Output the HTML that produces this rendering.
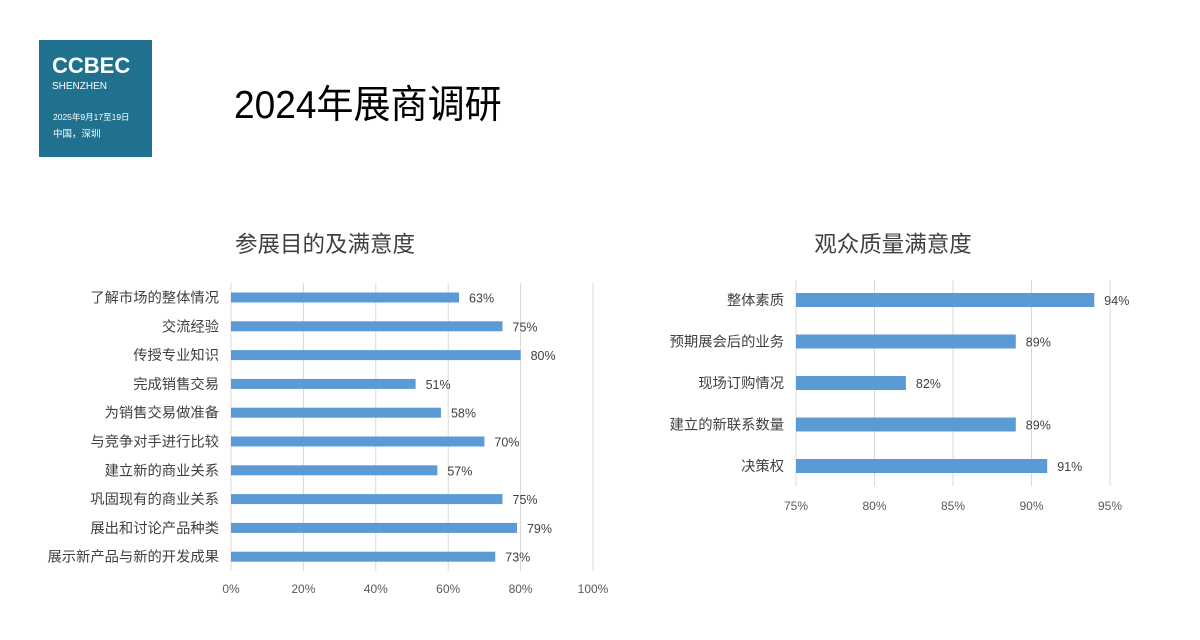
<!DOCTYPE html>
<html><head><meta charset="utf-8">
<style>
body{margin:0;width:1200px;height:640px;background:#fff;overflow:hidden;font-family:"Liberation Sans","Noto Sans CJK SC",sans-serif;position:relative}
.logo{position:absolute;left:39px;top:40px;width:113px;height:117px;background:#1f718d;color:#fff}
</style></head><body>
<div class="logo">
<div style="position:absolute;left:13px;top:13px;font-size:22px;font-weight:bold">CCBEC</div>
<div style="position:absolute;left:13px;top:41px;font-size:10px">SHENZHEN</div>
<div style="position:absolute;left:14px;top:71px;font-size:8.5px">2025年9月17至19日</div>
<div style="position:absolute;left:14px;top:86px;font-size:9.5px">中国，深圳</div>
</div>
<div style="position:absolute;left:234px;top:74px;font-size:39px;color:#000;transform:scaleX(0.95);transform-origin:left">2024年展商调研</div>
<svg id="svg" width="1200" height="640" style="position:absolute;left:0;top:0"></svg>
<script>
const cats1=["了解市场的整体情况","交流经验","传授专业知识","完成销售交易","为销售交易做准备","与竞争对手进行比较","建立新的商业关系","巩固现有的商业关系","展出和讨论产品种类","展示新产品与新的开发成果"];
const vals1=[63,75,80,51,58,70,57,75,79,73];
const ticks1=[0,20,40,60,80,100];
const cats2=["整体素质","预期展会后的业务","现场订购情况","建立的新联系数量","决策权"];
const vals2=[94,89,82,89,91];
const ticks2=[75,80,85,90,95];
const svg=document.getElementById('svg');
const NS='http://www.w3.org/2000/svg';
function mk(tag,attrs,txt){const e=document.createElementNS(NS,tag);for(const k in attrs)e.setAttribute(k,attrs[k]);if(txt!==undefined)e.textContent=txt;svg.appendChild(e);return e;}
const F='"Liberation Sans","Noto Sans CJK SC",sans-serif';
function chart(cfg){
 const x=v=>cfg.x0+(v-cfg.min)/(cfg.max-cfg.min)*(cfg.x1-cfg.x0);
 const y=i=>cfg.y0+i*cfg.step;
 let t=mk('text',{x:cfg.tx,y:cfg.ty,'font-size':22.5,fill:'#404040','font-family':F,'text-anchor':'middle'},cfg.title);
 
 cfg.ticks.forEach(v=>{
  let l=mk('line',{x1:x(v),x2:x(v),y1:cfg.top,y2:cfg.bot,stroke:'#d9d9d9','stroke-width':1});
  
  let tx=mk('text',{x:x(v),y:cfg.ly,'font-size':12,fill:'#595959','font-family':F,'text-anchor':'middle'},v+'%');
  
 });
 cfg.cats.forEach((c,i)=>{
  let lb=mk('text',{x:cfg.x0-12,y:y(i)+5,'font-size':14.3,fill:'#404040','font-family':F,'text-anchor':'end'},c);
  
  const v=cfg.vals[i];
  let r=mk('rect',{x:x(cfg.min),y:y(i)-cfg.bh/2,width:x(v)-x(cfg.min),height:cfg.bh,fill:'#5b9bd5'});
  
  let vl=mk('text',{x:x(v)+10,y:y(i)+5,'font-size':12.5,fill:'#404040','font-family':F},v+'%');
  
 });
}
chart({name:'purpose',title:'参展目的及满意度',tx:325,ty:252,cats:cats1,vals:vals1,ticks:ticks1,min:0,max:100,x0:231,x1:593,y0:297.5,step:28.8,bh:10,top:283,bot:571,ly:593});
chart({name:'audience',title:'观众质量满意度',tx:893,ty:252,cats:cats2,vals:vals2,ticks:ticks2,min:75,max:95,x0:796,x1:1110,y0:300,step:41.5,bh:14,top:280,bot:486,ly:510});
</script>
</body></html>
